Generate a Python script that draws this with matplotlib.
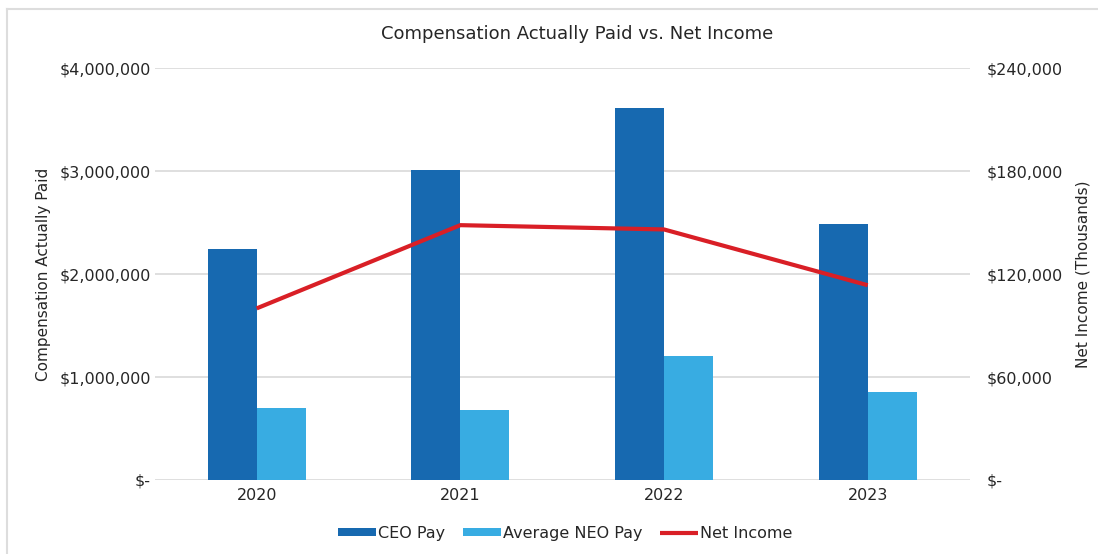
import numpy as np
import matplotlib.pyplot as plt
from matplotlib.lines import Line2D
from matplotlib.ticker import FuncFormatter

plt.rcParams['font.family'] = ['DejaVu Sans']

years = ['2020', '2021', '2022', '2023']
ceo_pay = [2245000, 3010000, 3610000, 2485000]
neo_pay = [700000, 680000, 1200000, 855000]
net_income = [100000, 148500, 146000, 113500]

ceo_color = '#1769B0'
neo_color = '#38ACE2'
line_color = '#D91F26'
grid_color = '#D9D9D9'
text_color = '#262626'


def money_fmt(v, pos):
    if v == 0:
        return '$-'
    return f'${v:,.0f}'


fig = plt.figure(figsize=(10.98, 5.54), dpi=100)
ax = fig.add_axes([0.141, 0.1336, 0.742, 0.7434])
ax2 = ax.twinx()

x = np.arange(len(years))
w = 0.24
ax.bar(x - w / 2, ceo_pay, w, color=ceo_color, label='CEO Pay', zorder=2)
ax.bar(x + w / 2, neo_pay, w, color=neo_color, label='Average NEO Pay', zorder=2)
ax2.plot(x, net_income, color=line_color, lw=3.0, label='Net Income',
         solid_capstyle='butt', zorder=3)

ax.set_xlim(-0.5, 3.5)
ax.set_ylim(0, 4000000)
ax.set_yticks(np.arange(0, 4000001, 1000000))
ax2.set_ylim(0, 240000)
ax2.set_yticks(np.arange(0, 240001, 60000))
ax.yaxis.set_major_formatter(FuncFormatter(money_fmt))
ax2.yaxis.set_major_formatter(FuncFormatter(money_fmt))
ax.set_xticks(x)
ax.set_xticklabels(years)

ax.grid(axis='y', color=grid_color, lw=1.2, zorder=0)
ax.set_axisbelow(True)
for a in (ax, ax2):
    for s in a.spines.values():
        s.set_visible(False)
    a.tick_params(length=0, labelsize=11.5, colors=text_color)
ax.tick_params(axis='y', pad=3)
ax2.tick_params(axis='y', pad=12)
ax.tick_params(axis='x', pad=6)

ax.set_ylabel('Compensation Actually Paid', fontsize=11, color=text_color, labelpad=6)
ax2.set_ylabel('Net Income (Thousands)', fontsize=11, color=text_color, labelpad=9)
fig.text(0.526, 0.938, 'Compensation Actually Paid vs. Net Income',
         ha='center', va='center', fontsize=13, color=text_color)

h1, l1 = ax.get_legend_handles_labels()
h2, l2 = ax2.get_legend_handles_labels()
fig.legend(h1 + h2, l1 + l2, loc='center', bbox_to_anchor=(0.5146, 0.037), ncol=3,
           frameon=False, fontsize=11.5, handlelength=2.4, handleheight=0.4,
           handletextpad=0.12, columnspacing=1.1, labelcolor=text_color)

# screenshot frame: only top and left edges visible
fig.add_artist(Line2D([0.0064, 1.0], [0.9838, 0.9838], transform=fig.transFigure,
                      color='#DDDDDD', lw=1.5))
fig.add_artist(Line2D([0.0064, 0.0064], [0.0, 0.9838], transform=fig.transFigure,
                      color='#DDDDDD', lw=1.5))

fig.savefig('out.png', dpi=100)
